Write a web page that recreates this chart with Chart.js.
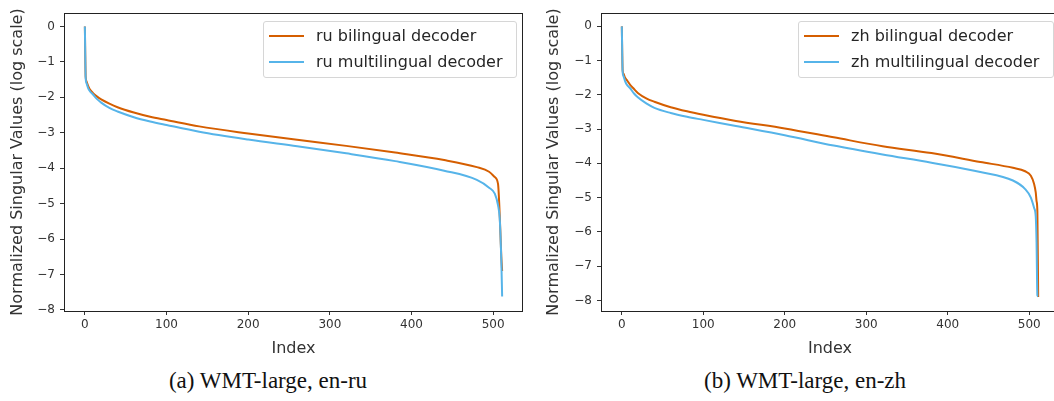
<!DOCTYPE html>
<html>
<head>
<meta charset="utf-8">
<script src="https://cdn.jsdelivr.net/npm/chart.js@4"></script>
<style>
  body { margin: 0; background: #fff; width: 1054px; height: 401px; overflow: hidden; position: relative; font-family: "DejaVu Sans", sans-serif; }
  .panel { position: absolute; top: 0; width: 530px; height: 360px; }
  .legend { position: absolute; top: 21px; height: 55px; border: 1px solid #d6d6d6; border-radius: 3px; background: rgba(255,255,255,0.85); font-size: 16px; color: #262626; }
  .legend .row { position: absolute; left: 0; height: 20px; white-space: nowrap; }
  .legend .swatch { position: absolute; left: 5px; top: 9px; width: 35px; height: 2px; }
  .legend .txt { position: absolute; left: 52px; top: 0; line-height: 20px; }
  .caption { position: absolute; top: 368px; font-family: "Liberation Serif", "Times New Roman", serif; font-size: 23px; line-height: 26px; color: #111; transform: translateX(-50%); white-space: nowrap; }
</style>
</head>
<body>
<div class="panel" style="left:0px"><canvas id="chartRu" width="530" height="360"></canvas></div>
<div class="panel" style="left:536px"><canvas id="chartZh" width="530" height="360"></canvas></div>
<div id="legendRu" class="legend" style="left:263px; width:252px"></div>
<div id="legendZh" class="legend" style="left:798px; width:254px"></div>
<div class="caption" style="left:268px">(a) WMT-large, en-ru</div>
<div class="caption" style="left:805px">(b) WMT-large, en-zh</div>
<script>
// sampled singular value index (x axis)
const indices = [0, 1, 2, 4, 6, 10, 15, 20, 30, 40, 60, 80, 100, 140, 200, 260, 320, 380, 440, 480, 495, 502, 506, 508, 509, 510, 511];

// en-ru, log scale values
const ruBilingual = [0.0, -1.42, -1.55, -1.68, -1.77, -1.88, -1.98, -2.06, -2.18, -2.28, -2.43, -2.55, -2.64, -2.82, -3.02, -3.20, -3.37, -3.56, -3.77, -3.97, -4.10, -4.25, -4.45, -5.30, -5.90, -6.50, -6.90];
const ruMultilingual = [0.0, -1.46, -1.60, -1.74, -1.82, -1.92, -2.05, -2.15, -2.30, -2.40, -2.56, -2.68, -2.78, -2.97, -3.19, -3.38, -3.58, -3.80, -4.07, -4.33, -4.55, -4.72, -5.05, -5.40, -5.90, -6.60, -7.62];

// en-zh, log scale values
const zhBilingual = [0.0, -1.28, -1.38, -1.50, -1.56, -1.70, -1.83, -1.95, -2.10, -2.20, -2.36, -2.48, -2.58, -2.76, -2.98, -3.24, -3.50, -3.70, -3.96, -4.13, -4.23, -4.36, -4.60, -4.85, -5.10, -5.40, -7.90];
const zhMultilingual = [0.0, -1.33, -1.45, -1.60, -1.70, -1.80, -1.96, -2.08, -2.25, -2.38, -2.53, -2.64, -2.73, -2.91, -3.18, -3.48, -3.74, -3.98, -4.25, -4.50, -4.75, -5.00, -5.30, -5.55, -6.30, -7.85, -7.88];

const xTickStep = 100;
const yTickStep = 1;

const ORANGE = "#d55e00";
const BLUE = "#56b4e9";

const minus = (v) => (v < 0 ? "\u2212" + Math.abs(v) : String(v));

// draws the full axes box like matplotlib
const frame = {
  id: "frame",
  afterDraw(chart) {
    const { ctx, chartArea: a } = chart;
    ctx.save();
    ctx.strokeStyle = "#222";
    ctx.lineWidth = 1;
    ctx.strokeRect(Math.round(a.left) + 0.5, Math.round(a.top) + 0.5, Math.round(a.right - a.left) - 1, Math.round(a.bottom - a.top));
    ctx.restore();
  },
};

function makeChart(id, legendId, lang, bil, mul, yMin, yMax, yAxisWidth) {
  const ctx = document.getElementById(id).getContext("2d");
  const chart = new Chart(ctx, {
    type: "line",
    data: {
      datasets: [
        {
          label: lang + " bilingual decoder",
          data: indices.map((x, i) => ({ x: x, y: bil[i] })),
          borderColor: ORANGE,
          backgroundColor: ORANGE,
          borderWidth: 2,
          pointRadius: 0,
          cubicInterpolationMode: "monotone",
          order: 1,
        },
        {
          label: lang + " multilingual decoder",
          data: indices.map((x, i) => ({ x: x, y: mul[i] })),
          borderColor: BLUE,
          backgroundColor: BLUE,
          borderWidth: 2,
          pointRadius: 0,
          cubicInterpolationMode: "monotone",
          order: 0,
        },
      ],
    },
    options: {
      responsive: false,
      animation: false,
      devicePixelRatio: 1,
      layout: { padding: { top: 13, right: 7, bottom: 0, left: 0 } },
      plugins: { legend: { display: false }, tooltip: { enabled: false } },
      scales: {
        x: {
          type: "linear",
          min: -25.55,
          max: 536.55,
          afterFit: (s) => { s.height = 49; },
          ticks: { stepSize: xTickStep, includeBounds: false, maxRotation: 0, padding: 3, color: "#333", font: { family: "DejaVu Sans", size: 12 } },
          grid: { drawOnChartArea: false, tickLength: 4, tickColor: "#333" },
          border: { display: false },
          title: { display: true, text: "Index", color: "#333", padding: { top: 0, bottom: 2 }, font: { family: "DejaVu Sans", size: 16 } },
        },
        y: {
          type: "linear",
          min: yMin,
          max: yMax,
          afterFit: (s) => { s.width = yAxisWidth; },
          ticks: { stepSize: yTickStep, includeBounds: false, padding: 5, color: "#333", callback: minus, font: { family: "DejaVu Sans", size: 12 } },
          grid: { drawOnChartArea: false, tickLength: 4, tickColor: "#333" },
          border: { display: false },
          title: { display: true, text: "Normalized Singular Values (log scale)", color: "#333", padding: { top: 8, bottom: 0 }, font: { family: "DejaVu Sans", size: 16 } },
        },
      },
    },
    plugins: [frame],
  });

  // html legend from the chart's datasets
  const box = document.getElementById(legendId);
  chart.data.datasets.forEach((ds, i) => {
    const row = document.createElement("div");
    row.className = "row";
    row.style.top = 4 + i * 26 + "px";
    row.innerHTML = '<span class="swatch" style="background:' + ds.borderColor + '"></span><span class="txt">' + ds.label + "</span>";
    box.appendChild(row);
  });
  return chart;
}

makeChart("chartRu", "legendRu", "ru", ruBilingual, ruMultilingual, -8.03, 0.38, 64);
makeChart("chartZh", "legendZh", "zh", zhBilingual, zhMultilingual, -8.31, 0.39, 65);
</script>
</body>
</html>
